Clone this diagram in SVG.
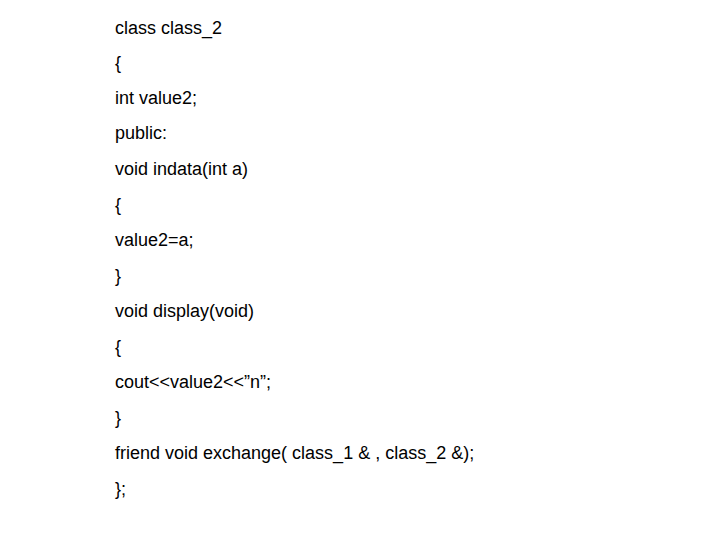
<svg xmlns="http://www.w3.org/2000/svg" width="720" height="540" viewBox="0 0 720 540">
<style>text{font-family:"Liberation Sans",Arial,sans-serif;font-size:18px;fill:#000}</style>
<rect width="720" height="540" fill="#fff"/>
<g id="code">
<text x="115" y="34">class class_2</text>
<text x="115" y="69">{</text>
<text x="115" y="104">int value2;</text>
<text x="115" y="139">public:</text>
<text x="115" y="175">void indata(int a)</text>
<text x="115" y="211">{</text>
<text x="115" y="246">value2=a;</text>
<text x="115" y="282">}</text>
<text x="115" y="317">void display(void)</text>
<text x="115" y="353">{</text>
<text x="115" y="388">cout&lt;&lt;value2&lt;&lt;”n”;</text>
<text x="115" y="424">}</text>
<text x="115" y="459">friend void exchange( class_1 &amp; , class_2 &amp;);</text>
<text x="115" y="495">};</text>
</g>
</svg>
